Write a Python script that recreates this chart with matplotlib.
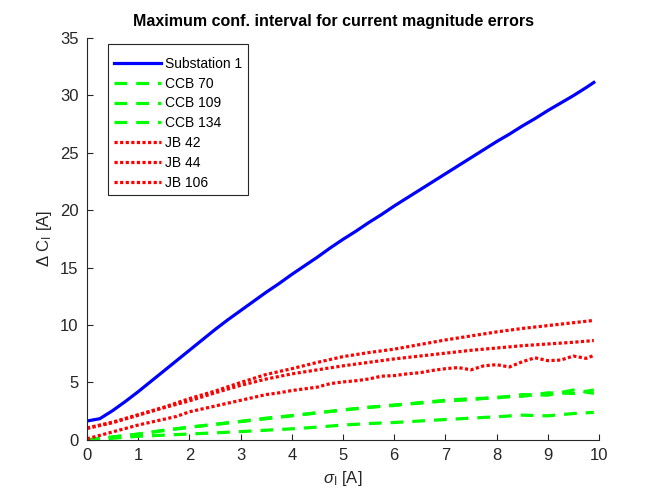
import matplotlib
matplotlib.use("Agg")
import matplotlib.pyplot as plt
import numpy as np

plt.rcParams['font.family'] = ['Liberation Sans', 'DejaVu Sans']
plt.rcParams['mathtext.fontset'] = 'custom'
plt.rcParams['mathtext.rm'] = 'Liberation Sans'
plt.rcParams['mathtext.it'] = 'Liberation Sans:italic'

x = [0, 0.5, 1.0, 1.5, 2.0, 2.5, 3.0, 3.5, 4.0, 4.5, 5.0, 5.5, 6.0, 6.5,
     7.0, 7.5, 8.0, 8.5, 9.0, 9.5, 9.9]
x_fine = [0, 0.25, 0.5, 0.75, 1.0, 1.25, 1.5, 1.75, 2.0, 2.25, 2.5, 2.75,
          3.0, 3.25, 3.5, 3.75, 4.0, 4.25, 4.5, 4.75, 5.0, 5.25, 5.5, 5.75,
          6.0, 6.25, 6.5, 6.75, 7.0, 7.25, 7.5, 7.75, 8.0, 8.25, 8.5, 8.75,
          9.0, 9.25, 9.5, 9.75, 9.9]

substation1 = [1.65, 1.85, 2.55, 3.35, 4.2, 5.1, 6.0, 6.9, 7.8, 8.7, 9.6,
               10.45, 11.25, 12.05, 12.85, 13.6, 14.4, 15.15, 15.9, 16.7,
               17.45, 18.15, 18.9, 19.6, 20.35, 21.05, 21.75, 22.45, 23.15,
               23.85, 24.55, 25.25, 25.95, 26.6, 27.3, 27.95, 28.65, 29.3,
               29.95, 30.65, 31.1]
ccb70 = [0.0, 0.15, 0.32, 0.42, 0.52, 0.62, 0.73, 0.85, 0.97, 1.12, 1.3,
         1.43, 1.52, 1.65, 1.78, 1.9, 2.02, 2.16, 2.1, 2.3, 2.4]
ccb109 = [0.0, 0.25, 0.5, 0.82, 1.1, 1.37, 1.62, 1.9, 2.12, 2.35, 2.62,
          2.82, 3.05, 3.2, 3.4, 3.5, 3.72, 3.8, 4.1, 4.05, 4.35]
ccb134 = [0.0, 0.27, 0.52, 0.85, 1.12, 1.35, 1.6, 1.85, 2.1, 2.38, 2.6,
          2.86, 3.0, 3.25, 3.45, 3.6, 3.65, 3.95, 3.9, 4.35, 4.05]
jb42 = [1.05, 1.55, 2.2, 2.85, 3.6, 4.25, 5.0, 5.7, 6.2, 6.75, 7.25, 7.6,
        7.9, 8.3, 8.7, 9.05, 9.4, 9.7, 9.95, 10.2, 10.4]
jb44 = [1.0, 1.5, 2.15, 2.8, 3.4, 4.1, 4.75, 5.3, 5.75, 6.1, 6.45, 6.75,
        7.05, 7.3, 7.55, 7.8, 8.0, 8.2, 8.35, 8.5, 8.65]
jb106 = [0.1, 0.4, 0.7, 1.0, 1.3, 1.55, 1.8, 2.05, 2.45, 2.7, 2.95, 3.2,
         3.45, 3.7, 3.95, 4.1, 4.3, 4.45, 4.6, 4.9, 5.05, 5.15, 5.3, 5.55,
         5.6, 5.75, 5.85, 6.05, 6.2, 6.3, 6.1, 6.45, 6.55, 6.35, 6.8, 7.15,
         6.9, 6.95, 7.3, 7.1, 7.35]

labels = ['Substation 1', 'CCB 70', 'CCB 109', 'CCB 134', 'JB 42', 'JB 44', 'JB 106']
xticks = list(range(0, 11))
yticks = list(range(0, 36, 5))

fig = plt.figure(figsize=(6.64, 4.98), dpi=100)
ax = fig.add_axes([0.131, 0.1165, 0.771, 0.808])

blue = '#0000ff'
green = '#00ff00'
red = '#ff0000'
dash = (0, (4, 2.8))
dot = (0, (1, 0.75))
ax.plot(x_fine, substation1, color=blue, lw=2.3, label=labels[0])
for s, l in zip([ccb70, ccb109, ccb134], labels[1:4]):
    ax.plot(x, s, color=green, lw=2.3, ls=dash, label=l)
for s, l in zip([jb42, jb44], labels[4:6]):
    ax.plot(x, s, color=red, lw=2.3, ls=dot, label=l)
ax.plot(x_fine, jb106, color=red, lw=2.3, ls=dot, label=labels[6])

ax.set_xlim(0, 10)
ax.set_ylim(0, 35)
ax.set_xticks(xticks)
ax.set_yticks(yticks)
ax.tick_params(direction='in', length=4, width=0.8, colors='#262626',
               labelsize=12, pad=6)
for side in ['top', 'right']:
    ax.spines[side].set_visible(False)
for side in ['left', 'bottom']:
    ax.spines[side].set_color('#262626')
    ax.spines[side].set_linewidth(0.8)

ax.set_title('Maximum conf. interval for current magnitude errors',
             fontsize=11.5, fontweight='bold', pad=8, x=0.482)
ax.set_xlabel(r'$\sigma_\mathrm{I}$ [A]', fontsize=12, color='#262626')
ax.set_ylabel(r'$\Delta$ C$_\mathrm{I}$ [A]', fontsize=12, color='#262626')

leg = ax.legend(loc='upper left', bbox_to_anchor=(0.041, 0.983), fontsize=10,
                handlelength=3.4, handletextpad=0.3, labelspacing=0.42,
                borderpad=0.4, borderaxespad=0, fancybox=False, framealpha=1,
                title=' ', title_fontsize=1.5)
leg.get_frame().set_edgecolor('#262626')
leg.get_frame().set_linewidth(0.8)

fig.savefig('out.png', dpi=100)
